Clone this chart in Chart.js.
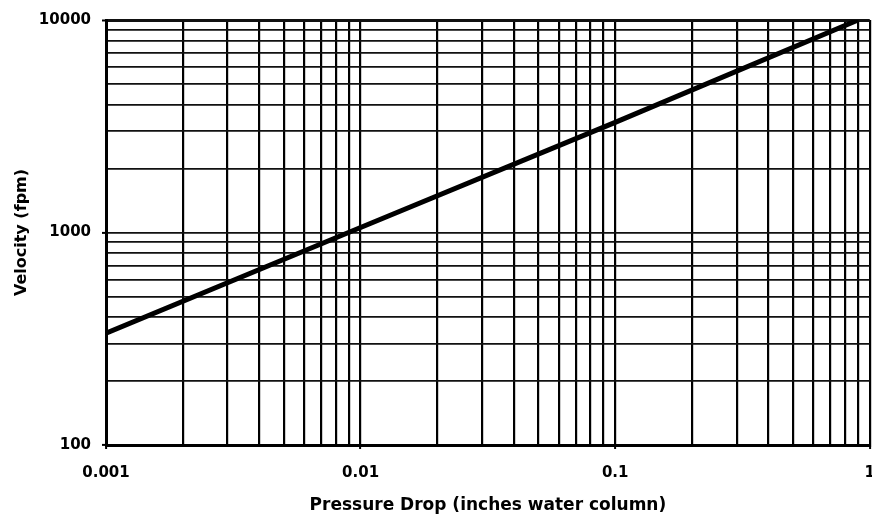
<!DOCTYPE html>
<html>
<head>
<meta charset="utf-8">
<script src="https://cdn.jsdelivr.net/npm/chart.js@4"></script>
<style>
  html, body { margin: 0; padding: 0; background: #fff; overflow: hidden; }
  canvas { display: block; }
</style>
</head>
<body>
<canvas id="chart" width="890" height="518" style="width:890px;height:518px"></canvas>
<script>
// pressure drop (in. w.c.) vs velocity (fpm)
const pressureDrop = [0.001, 0.01, 0.1, 0.9];
const velocity = [336, 1055, 3300, 10000];

// major decades for each axis
const xDecades = [0.001, 0.01, 0.1, 1];
const yDecades = [100, 1000, 10000];
const xLabels = ['0.001', '0.01', '0.1', '1'];
const yLabels = ['100', '1000', '10000'];
const steps = [1, 2, 3, 4, 5, 6, 7, 8, 9];

function gridValues(decades) {
    const out = [];
    decades.forEach((d, i) => {
        if (i === decades.length - 1) { out.push(d); return; }
        steps.forEach(s => out.push(Number((s * d).toPrecision(3))));
    });
    return out;
}
const xGrid = gridValues(xDecades);
const yGrid = gridValues(yDecades);

const isMajor = (list, v) => list.some(d => Math.abs(d - v) / d < 1e-6);
const labelFor = (list, labels, v) => {
    const i = list.findIndex(d => Math.abs(d - v) / d < 1e-6);
    return i >= 0 ? labels[i] : '';
};

new Chart(document.getElementById('chart'), {
    type: 'scatter',
    data: {
        datasets: [{
            label: 'Velocity',
            data: pressureDrop.map((p, i) => ({ x: p, y: velocity[i] })),
            showLine: true,
            borderColor: '#000',
            borderWidth: 5,
            pointRadius: 0,
            tension: 0
        }]
    },
    options: {
        responsive: false,
        animation: false,
        layout: { padding: { top: 16, right: 16, bottom: 0, left: 0 } },
        plugins: { legend: { display: false }, tooltip: { enabled: false } },
        scales: {
            x: {
                type: 'logarithmic',
                min: 0.001,
                max: 1,
                afterBuildTicks: (s) => { s.ticks = xGrid.map(v => ({ value: v })); },
                afterFit: (s) => { s.height = 73; },
                ticks: {
                    autoSkip: false,
                    maxRotation: 0,
                    padding: 15,
                    color: '#000',
                    font: { family: 'DejaVu Sans', size: 15, weight: 'bold' },
                    callback: (v) => labelFor(xDecades, xLabels, v)
                },
                grid: {
                    color: '#000',
                    lineWidth: 2.2,
                    tickLength: 4,
                    tickColor: (ctx) => isMajor(xDecades, ctx.tick.value) ? '#000' : 'rgba(0,0,0,0)',
                    tickWidth: 2
                },
                border: { color: '#000', width: 3 },
                title: {
                    display: true,
                    text: 'Pressure Drop (inches water column)',
                    color: '#000',
                    font: { family: 'DejaVu Sans', size: 17, weight: 'bold' },
                    padding: { top: 0, bottom: 2 }
                }
            },
            y: {
                type: 'logarithmic',
                min: 100,
                max: 10000,
                afterBuildTicks: (s) => { s.ticks = yGrid.map(v => ({ value: v })); },
                afterFit: (s) => { s.width = 106; },
                ticks: {
                    autoSkip: false,
                    padding: 11,
                    color: '#000',
                    font: { family: 'DejaVu Sans', size: 15, weight: 'bold' },
                    callback: (v) => labelFor(yDecades, yLabels, v)
                },
                grid: {
                    color: '#111',
                    lineWidth: (ctx) => ctx.tick && ctx.tick.value === 10000 ? 3 : 1.8,
                    tickLength: 4,
                    tickColor: (ctx) => isMajor(yDecades, ctx.tick.value) ? '#000' : 'rgba(0,0,0,0)',
                    tickWidth: 2
                },
                border: { color: '#000', width: 3 },
                title: {
                    display: true,
                    text: 'Velocity (fpm)',
                    color: '#000',
                    font: { family: 'DejaVu Sans', size: 16, weight: 'bold' },
                    padding: { top: 12, bottom: 0 }
                }
            }
        }
    }
});
</script>
</body>
</html>
